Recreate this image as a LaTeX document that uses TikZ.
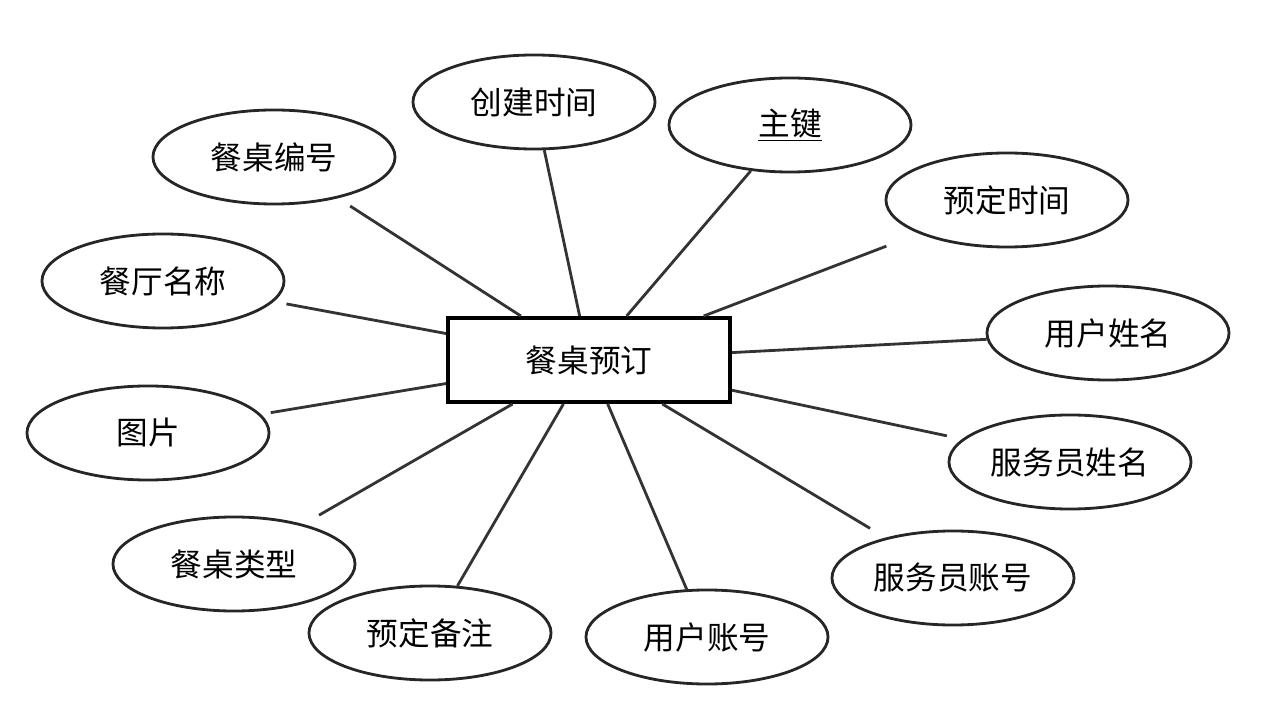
\documentclass[tikz,border=0pt]{standalone}
\usepackage{fontspec}
\setmainfont{Noto Sans CJK SC}
\usetikzlibrary{shapes.geometric}

\begin{document}
\begin{tikzpicture}[
  x=0.025cm, y=-0.025cm,
  entity/.style={rectangle, draw=black, line width=2.8pt, minimum width=7.05cm, minimum height=2.1cm, inner sep=0pt, font=\fontsize{22.5}{26}\selectfont},
  attr/.style={ellipse, draw=black!85, line width=2pt, minimum width=6.05cm, minimum height=2.35cm, inner sep=0pt, font=\fontsize{22.5}{26}\selectfont},
  link/.style={draw=black!80, line width=2pt},
]
  \useasboundingbox (0,0) rectangle (1275,720);

  % entity
  \node[entity] (order) at (589,360) {餐桌预订};

  % attributes
  \node[attr] (ctime) at (534,102) {创建时间};
  \node[attr] (pk) at (790,125) {\underline{主键}};
  \node[attr] (tno) at (274,157) {餐桌编号};
  \node[attr] (btime) at (1007,200) {预定时间};
  \node[attr] (rname) at (163,281) {餐厅名称};
  \node[attr] (uname) at (1108,333) {用户姓名};
  \node[attr] (pic) at (148,433) {图片};
  \node[attr] (wname) at (1070,462) {服务员姓名};
  \node[attr] (ttype) at (234,564) {餐桌类型};
  \node[attr] (wacc) at (953,578) {服务员账号};
  \node[attr] (note) at (430,633) {预定备注};
  \node[attr] (uacc) at (707,637) {用户账号};

  % links (some stop short of the ellipse)
  \foreach \a/\g in {ctime/0,pk/0,tno/0.36,btime/0.875,rname/0.32,uname/0,pic/0.25,wname/0.39,ttype/0.45,wacc/0.45,note/0,uacc/0}
    \draw[link, shorten <=\g cm] (\a) -- (order);
\end{tikzpicture}
\end{document}
